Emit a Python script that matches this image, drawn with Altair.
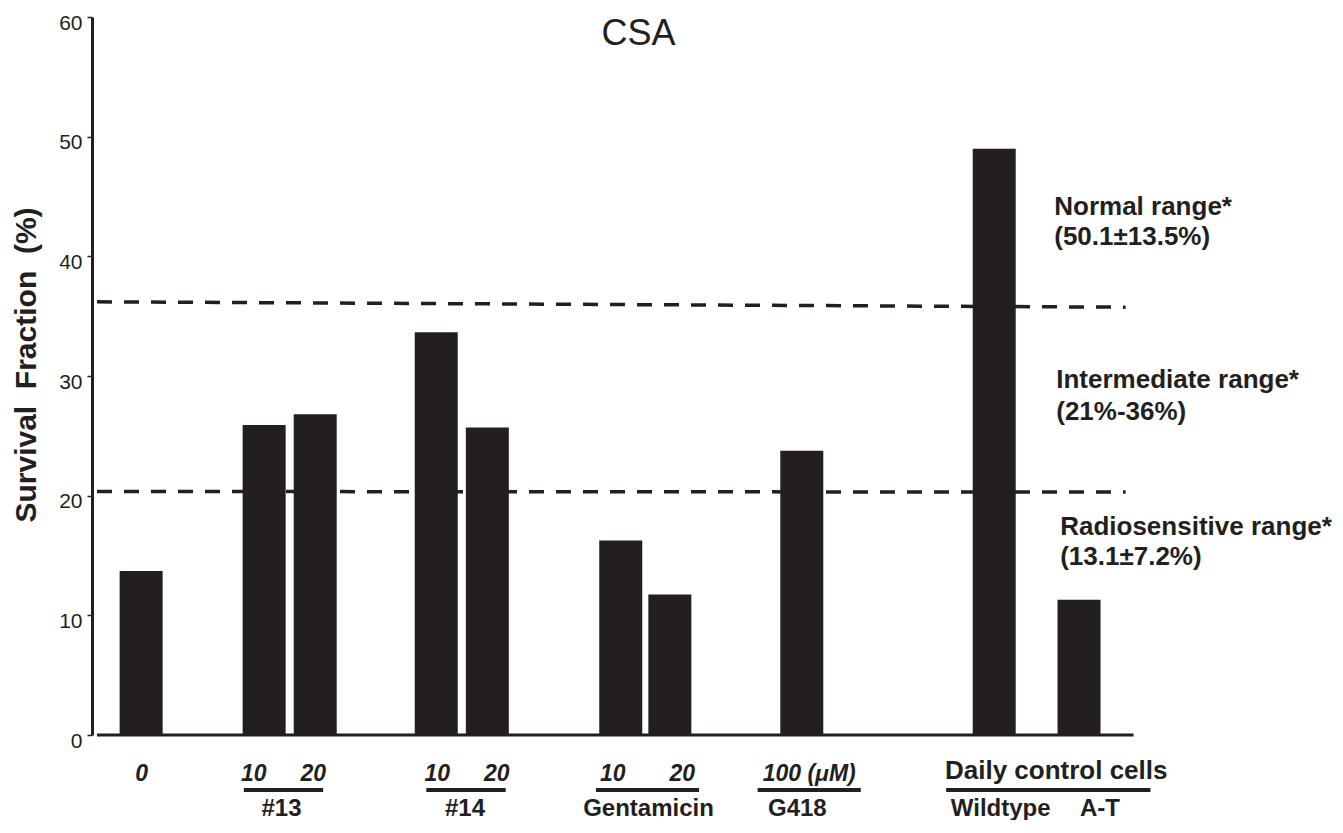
import altair as alt
import pandas as pd

INK = "#231f20"
FONT = "Liberation Sans"

# ---- bars (survival fraction, %) ----
bar_names = ["0", "#13 10", "#13 20", "#14 10", "#14 20",
             "Gentamicin 10", "Gentamicin 20", "G418 100", "Wildtype", "A-T"]
bar_values = [13.7, 25.9, 26.8, 33.65, 25.7, 16.25, 11.75, 23.75, 49.0, 11.3]
bar_slot = [4.45, 16.85, 22.0, 34.2, 39.35, 52.8, 57.75, 71.05, 90.45, 99.0]

# ---- reference range lines ----
range_line_y_start = [36.2, 20.35]
range_line_y_end = [35.75, 20.3]
range_line_span = [0, 103.7]

range_text = ["Normal range*", "(50.1±13.5%)", "Intermediate range*", "(21%-36%)",
              "Radiosensitive range*", "(13.1±7.2%)"]
range_text_slot = [96.5, 96.5, 96.7, 96.7, 97.1, 97.1]
range_text_level = [43.45, 40.95, 29.0, 26.32, 16.71, 14.21]

# ---- category labels below the axis ----
dose_text = ["0", "10", "20", "10", "20", "10", "20", "100 (μM)"]
dose_slot = [4.5, 15.8, 21.8, 34.3, 40.3, 52.0, 59.0, 71.8]
dose_level = -3.84

group_text = ["#13", "#14", "Gentamicin", "G418", "Wildtype", "A-T"]
group_slot = [18.6, 37.1, 55.6, 70.6, 91.1, 101.1]
group_level = -6.77

control_text = ["Daily control cells"]
control_slot = [96.7]
control_level = -3.68

underline_start = [14.8, 33.2, 50.3, 66.6, 85.6]
underline_end = [22.8, 41.2, 60.7, 77.0, 106.2]
underline_level = -4.6

baseline_span = [0, 104.5]

title_text = ["CSA"]
title_slot = [54.6]
title_level = [57.66]

# ---- shared scales ----
xscale = alt.Scale(domain=[0, 124.3], nice=False, zero=False)
yscale = alt.Scale(domain=[0, 60], nice=False)
yaxis = alt.Axis(
    values=[0, 10, 20, 30, 40, 50, 60], grid=False,
    tickSize=5, tickWidth=1.5, tickColor=INK,
    domainColor=INK, domainWidth=3,
    labelFont=FONT, labelFontSize=21, labelColor=INK, labelPadding=5,
    labelBaseline="middle", labelOffset=6,
    title="Survival\u00a0\u00a0Fraction\u00a0\u00a0(%)",
    titleFont=FONT, titleFontSize=30, titleFontWeight="bold", titleColor=INK,
    titleAngle=270, titleAlign="center", titleBaseline="middle",
    titleX=-66, titleY=347.5,
)


def X(field="x"):
    return alt.X(f"{field}:Q", scale=xscale, axis=None)


def Y(field="y"):
    return alt.Y(f"{field}:Q", scale=yscale, axis=yaxis)


bars_df = pd.DataFrame({"name": bar_names, "x": bar_slot, "y": bar_values})
bars = alt.Chart(bars_df).mark_bar(size=43, color=INK).encode(x=X(), y=Y())

lines_df = pd.DataFrame({
    "x": [range_line_span[0]] * 2, "x2": [range_line_span[1]] * 2,
    "y": range_line_y_start, "y2": range_line_y_end,
})
dashed = alt.Chart(lines_df).mark_rule(
    color=INK, strokeWidth=3.5, strokeDash=[15, 12]
).encode(x=X(), x2="x2:Q", y=Y(), y2="y2:Q")

base_df = pd.DataFrame({"x": [baseline_span[0]], "x2": [baseline_span[1]], "y": [0]})
baseline = alt.Chart(base_df).mark_rule(color=INK, strokeWidth=3).encode(
    x=X(), x2="x2:Q", y=Y())

ul_df = pd.DataFrame({"x": underline_start, "x2": underline_end,
                      "y": [underline_level] * len(underline_start)})
underlines = alt.Chart(ul_df).mark_rule(color=INK, strokeWidth=4).encode(
    x=X(), x2="x2:Q", y=Y())

rt_df = pd.DataFrame({"t": range_text, "x": range_text_slot, "y": range_text_level})
range_labels = alt.Chart(rt_df).mark_text(
    align="left", baseline="alphabetic", font=FONT, fontSize=26,
    fontWeight="bold", color=INK
).encode(x=X(), y=Y(), text="t:N")

dose_df = pd.DataFrame({"t": dose_text, "x": dose_slot, "y": [dose_level] * len(dose_text)})
dose_labels = alt.Chart(dose_df).mark_text(
    align="center", baseline="alphabetic", font=FONT, fontSize=23,
    fontWeight="bold", fontStyle="italic", color=INK
).encode(x=X(), y=Y(), text="t:N")

grp_df = pd.DataFrame({"t": group_text, "x": group_slot, "y": [group_level] * len(group_text)})
group_labels = alt.Chart(grp_df).mark_text(
    align="center", baseline="alphabetic", font=FONT, fontSize=24,
    fontWeight="bold", color=INK
).encode(x=X(), y=Y(), text="t:N")

ctl_df = pd.DataFrame({"t": control_text, "x": control_slot, "y": [control_level]})
control_label = alt.Chart(ctl_df).mark_text(
    align="center", baseline="alphabetic", font=FONT, fontSize=26,
    fontWeight="bold", color=INK
).encode(x=X(), y=Y(), text="t:N")

ttl_df = pd.DataFrame({"t": title_text, "x": title_slot, "y": title_level})
title = alt.Chart(ttl_df).mark_text(
    align="center", baseline="alphabetic", font=FONT, fontSize=36, color=INK
).encode(x=X(), y=Y(), text="t:N")

chart = alt.layer(
    bars, dashed, baseline, underlines, range_labels, dose_labels,
    group_labels, control_label, title
).properties(
    width=1243, height=718,
    autosize=alt.AutoSizeParams(type="none"),
    padding={"left": 84, "top": 9, "right": 0, "bottom": 85},
).configure(
    background="white",
    view=alt.ViewConfig(stroke="transparent", strokeWidth=0),
)

chart.save("out.html", embed_options={"renderer": "svg", "actions": False})
